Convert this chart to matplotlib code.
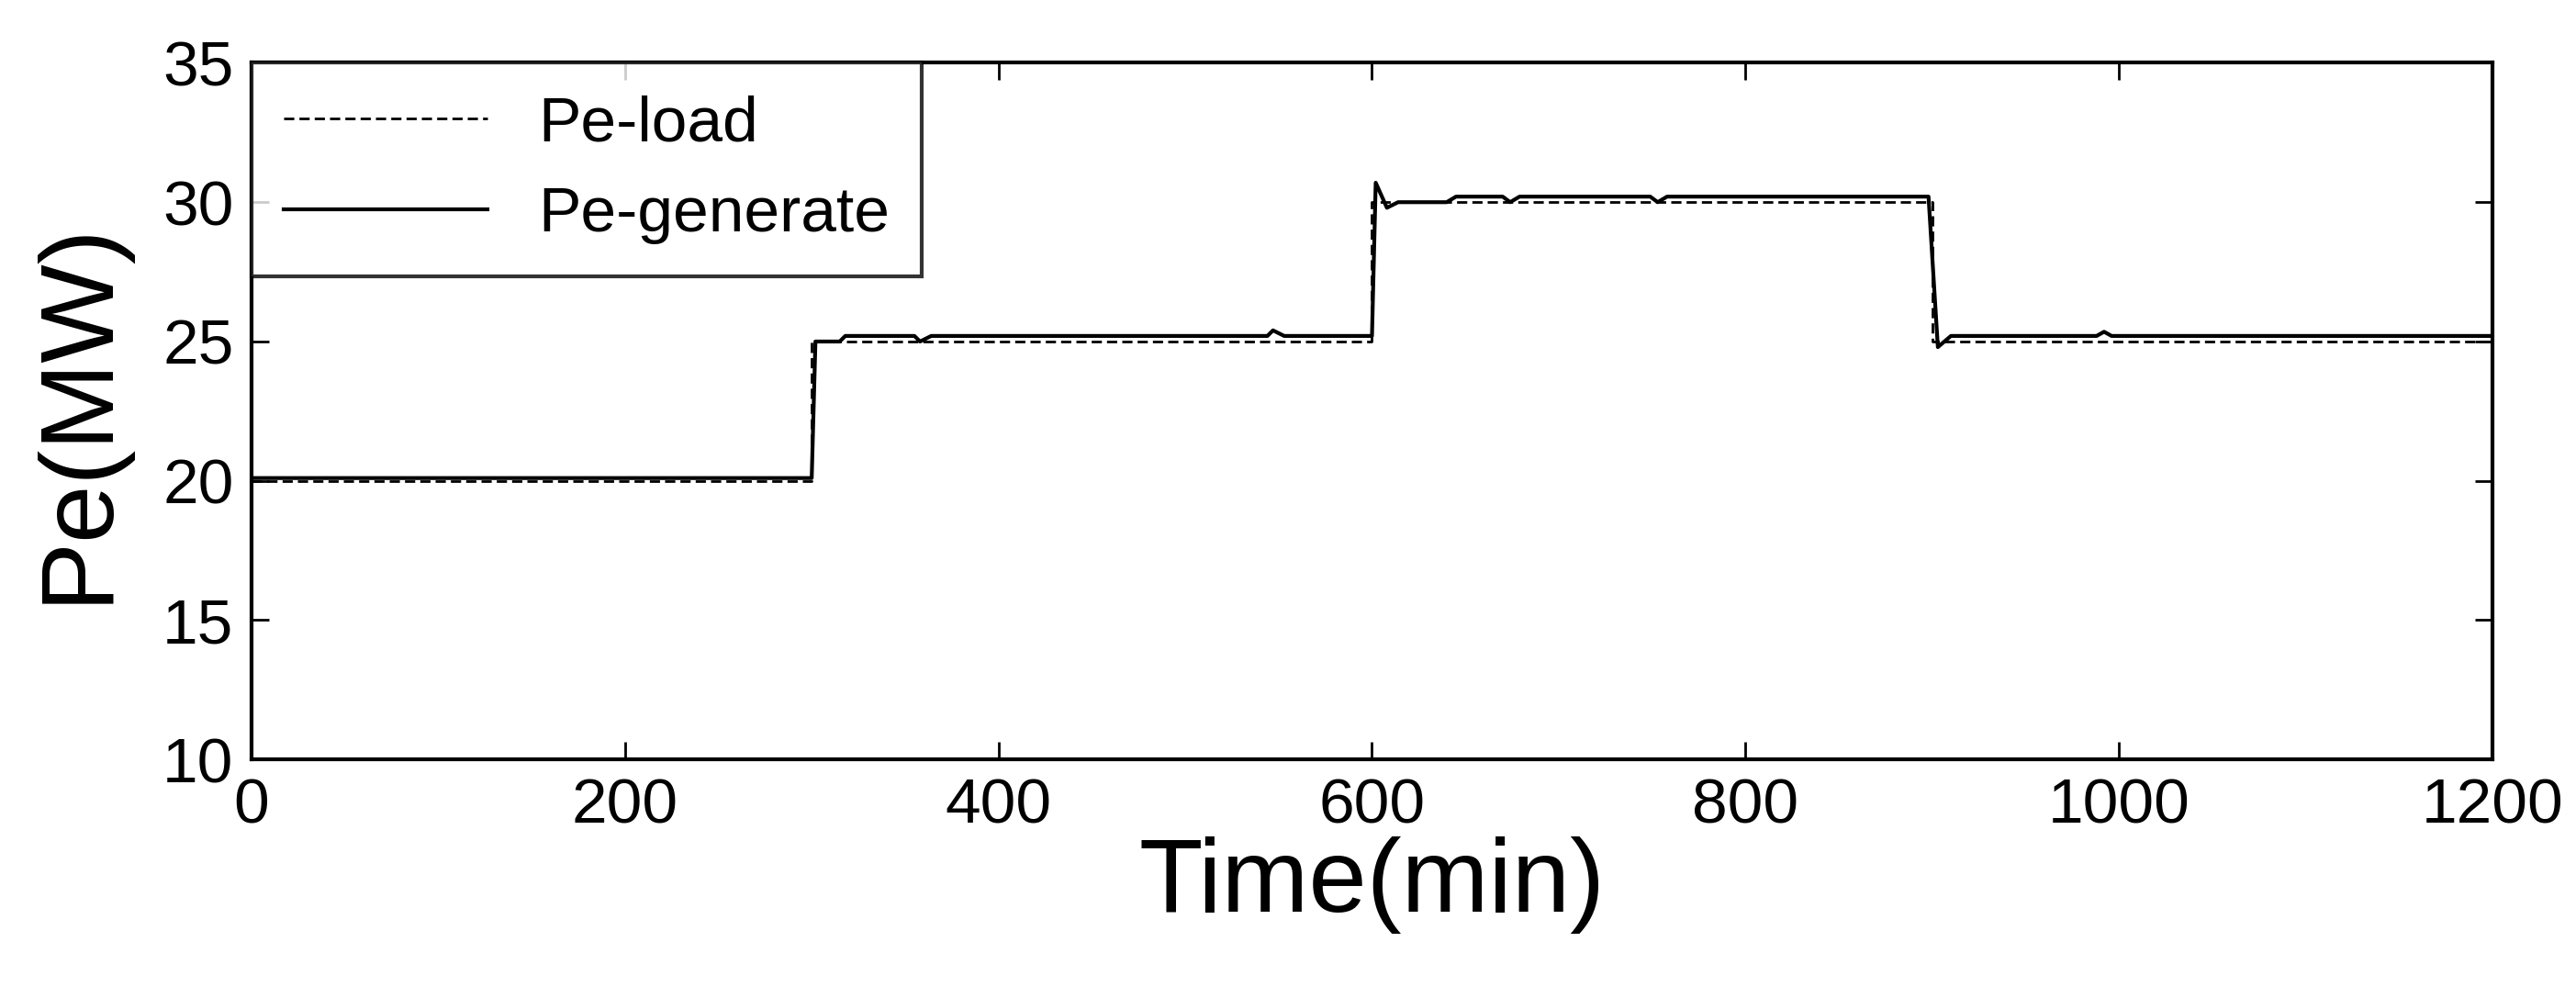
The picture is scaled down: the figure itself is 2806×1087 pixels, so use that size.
import matplotlib
matplotlib.use("Agg")
import matplotlib.pyplot as plt

plt.rcParams['font.family'] = ['Liberation Sans Narrow', 'Liberation Sans', 'DejaVu Sans']

# load demand (step profile)
load_t = [0, 300, 300, 600, 600, 900, 900, 1200]
load_p = [20, 20, 25, 25, 30, 30, 25, 25]

# generator output
gen_t = [0, 300, 302, 315, 318, 355, 358, 364, 544, 547, 553, 600, 602, 608, 614,
         640, 645, 670, 674, 679, 749, 753, 758, 898, 903, 910, 988, 992, 996, 1200]
gen_p = [20.1, 20.1, 25.0, 25.0, 25.2, 25.2, 25.0, 25.2, 25.2, 25.4, 25.2, 25.2, 30.7, 29.8, 30.0,
         30.0, 30.2, 30.2, 30.0, 30.2, 30.2, 30.0, 30.2, 30.2, 24.8, 25.2, 25.2, 25.35, 25.2, 25.2]

fig = plt.figure(figsize=(28.06, 10.87), dpi=100)
ax = fig.add_axes([0.0976, 0.239, 0.87, 0.698])

ax.plot(load_t, load_p, 'k--', lw=2, dashes=(4, 2), label='Pe-load')
ax.plot(gen_t, gen_p, 'k-', lw=3, label='Pe-generate')

ax.set_xlim(0, 1200)
ax.set_ylim(10, 35)
ax.set_xticks(range(0, 1201, 200))
ax.set_yticks(range(10, 36, 5))
ax.tick_params(direction='in', length=14, width=2, labelsize=50, top=True, right=True, pad=14)
for s in ax.spines.values():
    s.set_linewidth(3)

ax.set_xlabel('Time(min)', fontsize=82, labelpad=0)
ax.set_ylabel('Pe(MW)', fontsize=82, labelpad=28)

leg = ax.legend(loc='upper left', fontsize=50, frameon=True, fancybox=False,
                edgecolor='black', borderaxespad=0, handlelength=3.2,
                borderpad=0.5, labelspacing=0.5)
leg.get_frame().set_linewidth(3)

fig.savefig('out.png', dpi=100)
